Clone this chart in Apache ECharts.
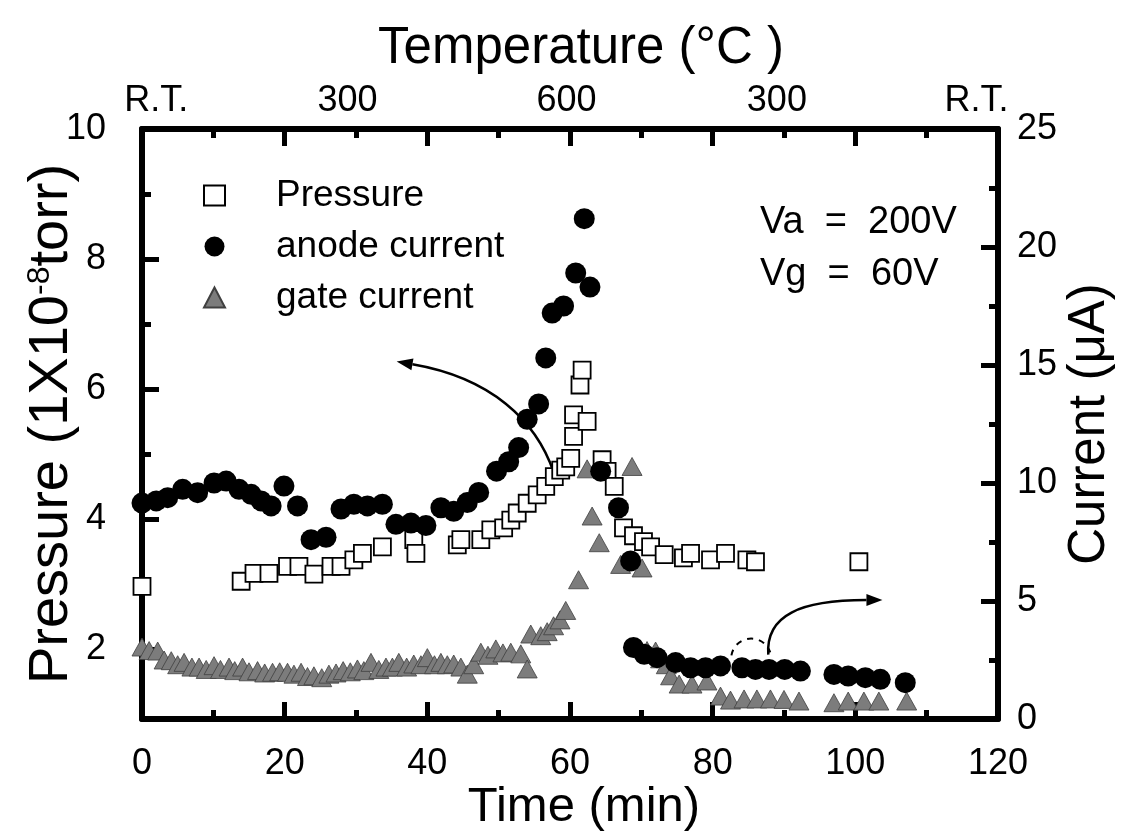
<!DOCTYPE html>
<html>
<head>
<meta charset="utf-8">
<style>
html, body { margin: 0; padding: 0; background: #fff; }
#chart { width: 1125px; height: 831px; }
</style>
<script src="https://cdn.jsdelivr.net/npm/echarts@6/dist/echarts.min.js"></script>
</head>
<body>
<div id="chart"></div>
<script>
// [time (min), pressure (1e-8 torr)]
var pressure = [
  [0, 2.96], [13.9, 3.04], [15.7, 3.16], [17.8, 3.16], [20.4, 3.27], [22.0, 3.27],
  [24.1, 3.15], [26.5, 3.27], [27.9, 3.27], [29.7, 3.37], [30.9, 3.47], [33.7, 3.57],
  [38.1, 3.68], [38.4, 3.47], [44.2, 3.60], [44.7, 3.68], [47.5, 3.68], [48.9, 3.83],
  [50.7, 3.86], [51.7, 3.98], [52.6, 4.09], [54.0, 4.24], [55.4, 4.37], [56.6, 4.50],
  [57.8, 4.65], [58.7, 4.75], [59.4, 4.80], [60.1, 4.93], [60.5, 5.27], [60.5, 5.60],
  [61.4, 6.06], [61.7, 6.29], [62.4, 5.50], [64.5, 4.91], [65.2, 4.73], [66.2, 4.50],
  [67.5, 3.86], [68.9, 3.74], [70.3, 3.65], [71.3, 3.57], [73.2, 3.45], [75.9, 3.40],
  [76.9, 3.47], [79.7, 3.37], [81.8, 3.47], [84.8, 3.37], [86.0, 3.34], [100.5, 3.34]
];
// [time (min), anode current (uA)]
var anodeCurrent = [
  [0, 9.15], [2.0, 9.24], [3.6, 9.38], [5.7, 9.73], [7.8, 9.59], [10.1, 10.0],
  [11.8, 10.08], [13.6, 9.73], [15.3, 9.52], [16.7, 9.24], [18.1, 9.03], [19.9, 9.87],
  [21.8, 9.03], [23.7, 7.6], [25.8, 7.7], [27.9, 8.9], [29.7, 9.1], [31.6, 9.03],
  [33.7, 9.1], [35.6, 8.25], [37.7, 8.3], [39.8, 8.2], [41.9, 8.95], [43.7, 8.8],
  [45.6, 9.17], [47.2, 9.6], [49.7, 10.5], [51.4, 10.9], [52.8, 11.5], [54.0, 12.7],
  [55.6, 13.35], [56.6, 15.3], [57.5, 17.2], [59.1, 17.5], [60.8, 18.9], [62.0, 21.2],
  [62.8, 18.3], [64.3, 10.5], [66.8, 8.95], [68.5, 6.7], [68.9, 3.03], [70.4, 2.74],
  [72.2, 2.6], [74.8, 2.39], [76.9, 2.17], [79.0, 2.17], [81.1, 2.25], [84.1, 2.17],
  [86.0, 2.1], [87.9, 2.1], [90.1, 2.1], [92.3, 2.03], [97.0, 1.89], [99.0, 1.82],
  [101.4, 1.75], [103.5, 1.68], [107.0, 1.54]
];
// [time (min), gate current (uA)]
var gateCurrent = [
  [0, 3.05], [1.0, 2.9], [2.2, 2.88], [3.1, 2.5], [4.1, 2.47], [5.0, 2.3], [5.9, 2.4],
  [7.0, 2.2], [8.0, 2.2], [9.0, 2.1], [10.1, 2.26], [11.0, 2.1], [12.2, 2.2], [13.0, 2.05],
  [14.1, 2.2], [15.0, 2.0], [16.2, 2.05], [17.2, 1.95], [18.3, 1.98], [19.3, 2.0],
  [20.4, 1.98], [21.3, 1.9], [22.3, 1.98], [23.2, 1.8], [24.1, 1.83], [25.2, 1.75],
  [26.2, 1.9], [27.2, 1.95], [28.2, 2.05], [29.2, 2.0], [30.2, 2.12], [31.1, 2.05],
  [32.1, 2.4], [33.2, 2.1], [34.2, 2.2], [35.1, 2.2], [36.0, 2.4], [37.1, 2.2],
  [38.1, 2.33], [39.1, 2.3], [40.0, 2.6], [41.0, 2.3], [41.9, 2.4], [42.8, 2.3],
  [43.7, 2.33], [44.7, 2.2], [45.6, 1.9], [46.5, 2.3], [47.5, 2.83], [48.5, 2.7],
  [49.6, 2.97], [50.6, 2.8], [51.7, 2.83], [53.1, 2.76], [54.0, 2.12], [54.5, 3.6],
  [55.9, 3.53], [56.8, 3.7], [57.7, 3.95], [58.6, 4.2], [59.4, 4.6], [61.2, 5.9],
  [62.4, 10.6], [63.1, 8.6], [64.1, 7.47], [67.1, 6.55], [68.7, 10.7], [70.1, 6.4],
  [70.8, 2.9], [72.0, 2.88], [72.7, 2.55], [73.5, 2.3], [74.1, 1.83], [75.3, 1.48],
  [77.1, 1.48], [79.2, 1.61], [81.1, 0.97], [82.5, 0.8], [84.4, 0.85], [86.2, 0.85],
  [88.1, 0.85], [90.0, 0.83], [92.1, 0.76], [97.0, 0.69], [99.0, 0.76], [101.2, 0.76],
  [103.3, 0.76], [107.2, 0.76]
];
var tempTickPos = [2, 28.8, 59.5, 89, 117];
var tempTickLabels = ['R.T.', '300', '600', '300', 'R.T.'];
var pressureMajor = [2, 4, 6, 8, 10];
var pressureMinor = [3, 5, 7, 9];

var FONT = '"Liberation Sans", Arial, Helvetica, sans-serif';
var chart = echarts.init(document.getElementById('chart'));

var tickCommon = { inside: true, length: 17, lineStyle: { color: '#000', width: 5 } };
var minorCommon = { show: true, splitNumber: 2, length: 9, lineStyle: { color: '#000', width: 5 } };
var lineCommon = { lineStyle: { color: '#000', width: 6 } };

var option = {
  animation: false,
  backgroundColor: '#fff',
  textStyle: { fontFamily: FONT, color: '#000' },
  grid: { left: 142, right: 127, top: 129, bottom: 112, outerBoundsMode: 'none' },
  legend: {
    orient: 'vertical',
    left: 198,
    top: 172,
    itemWidth: 21,
    itemHeight: 20,
    itemGap: 14,
    data: ['Pressure', 'anode current', 'gate current'],
    textStyle: { fontFamily: FONT, fontSize: 37, color: '#000', lineHeight: 37, padding: [0, 0, 0, 46] }
  },
  xAxis: [
    {
      type: 'value', min: 0, max: 120, interval: 20, position: 'bottom',
      name: 'Time (min)', nameLocation: 'middle', nameGap: 64, nameMoveOverlap: false,
      nameTextStyle: { fontSize: 49, color: '#000', padding: [0, 0, 0, 28] },
      axisLine: lineCommon, axisTick: tickCommon, minorTick: minorCommon,
      axisLabel: { fontSize: 36, color: '#000', margin: 27 },
      splitLine: { show: false }
    },
    {
      type: 'value', min: 0, max: 120, interval: 20, position: 'top',
      name: 'Temperature (°C )', nameLocation: 'middle', nameGap: 55, nameMoveOverlap: false,
      nameTextStyle: { fontSize: 51, color: '#000', padding: [0, 0, 0, 22] },
      axisLine: lineCommon, axisTick: tickCommon, minorTick: minorCommon,
      axisLabel: {
        customValues: tempTickPos, fontSize: 36, color: '#000', margin: 10,
        formatter: function (v) {
          var i = tempTickPos.indexOf(v);
          return i < 0 ? '' : tempTickLabels[i];
        }
      },
      splitLine: { show: false }
    }
  ],
  yAxis: [
    {
      type: 'value', min: 0.92, max: 10, position: 'left',
      name: '{a|Pressure (1X10}{s|-8}{a|torr)}', nameLocation: 'middle', nameGap: 62, nameRotate: 90,
      nameMoveOverlap: false,
      nameTextStyle: {
        rich: {
          a: { fontSize: 56, fontFamily: FONT, color: '#000' },
          s: { fontSize: 32, fontFamily: FONT, color: '#000', verticalAlign: 'top' }
        }
      },
      axisLine: lineCommon,
      axisTick: { inside: true, length: 17, customValues: pressureMajor, lineStyle: { color: '#000', width: 5 } },
      axisLabel: { customValues: pressureMajor, fontSize: 36, color: '#000', margin: 36 },
      splitLine: { show: false }
    },
    {
      type: 'value', min: 0.92, max: 10, position: 'left',
      axisLine: { show: false },
      axisTick: { inside: true, length: 9, customValues: pressureMinor, lineStyle: { color: '#000', width: 5 } },
      axisLabel: { show: false },
      splitLine: { show: false }
    },
    {
      type: 'value', min: 0, max: 25, interval: 5, position: 'right',
      name: 'Current (\u03bcA)', nameLocation: 'middle', nameGap: 66, nameRotate: 90,
      nameMoveOverlap: false,
      nameTextStyle: { fontSize: 51, color: '#000' },
      axisLine: lineCommon, axisTick: tickCommon, minorTick: minorCommon,
      axisLabel: { fontSize: 36, color: '#000', margin: 19 },
      splitLine: { show: false }
    }
  ],
  series: [
    {
      name: 'gate current', type: 'scatter', yAxisIndex: 2,
      symbol: 'triangle', symbolSize: [20, 18],
      itemStyle: { color: '#7c7c7c', borderColor: '#404040', borderWidth: 0.8, opacity: 1 },
      data: gateCurrent
    },
    {
      name: 'Pressure', type: 'scatter', yAxisIndex: 0,
      symbol: 'rect', symbolSize: 17,
      itemStyle: { color: '#fff', borderColor: '#000', borderWidth: 1.8, opacity: 1 },
      data: pressure
    },
    {
      name: 'anode current', type: 'scatter', yAxisIndex: 2,
      symbol: 'circle', symbolSize: 21,
      itemStyle: { color: '#000', opacity: 1 },
      data: anodeCurrent
    }
  ]
};
chart.setOption(option);

// curved arrows drawn in pressure-axis data coordinates
function px(p) { return chart.convertToPixel({ xAxisIndex: 0, yAxisIndex: 0 }, p); }
function arrow(pts) {
  var s = px(pts[0]), c1 = px(pts[1]), c2 = px(pts[2]), e = px(pts[3]);
  var dx = e[0] - c2[0], dy = e[1] - c2[1];
  var len = Math.sqrt(dx * dx + dy * dy);
  dx /= len; dy /= len;
  var hl = 16, hw = 6;
  var bx = e[0] - dx * hl, by = e[1] - dy * hl;
  return [
    {
      type: 'bezierCurve',
      shape: { x1: s[0], y1: s[1], cpx1: c1[0], cpy1: c1[1], cpx2: c2[0], cpy2: c2[1], x2: bx, y2: by },
      style: { stroke: '#000', lineWidth: 2.5, fill: 'none' }
    },
    {
      type: 'polygon',
      shape: { points: [[e[0], e[1]], [bx - dy * hw, by + dx * hw], [bx + dy * hw, by - dx * hw]] },
      style: { fill: '#000' }
    }
  ];
}
var arrowLeft = [[57.7, 4.72], [55.2, 5.52], [48.9, 6.17], [35.7, 6.42]];
var arrowRight = [[87.8, 1.91], [87.4, 2.52], [92.3, 2.75], [103.8, 2.75]];
var ringCenter = px([85.4, 1.85]);

var graphics = arrow(arrowLeft).concat(arrow(arrowRight));
graphics.push({
  type: 'arc',
  shape: { cx: ringCenter[0], cy: ringCenter[1], r: 20, startAngle: Math.PI * 1.05, endAngle: Math.PI * 1.9 },
  style: { stroke: '#000', lineWidth: 2, lineDash: [6, 6], fill: 'none' }
});
graphics.push({
  type: 'text', left: 760, top: 204,
  style: { text: 'Va  =  200V', font: '38px ' + FONT, fill: '#000' }
});
graphics.push({
  type: 'text', left: 760, top: 256,
  style: { text: 'Vg  =  60V', font: '38px ' + FONT, fill: '#000' }
});
chart.setOption({ graphic: graphics });
</script>
</body>
</html>
